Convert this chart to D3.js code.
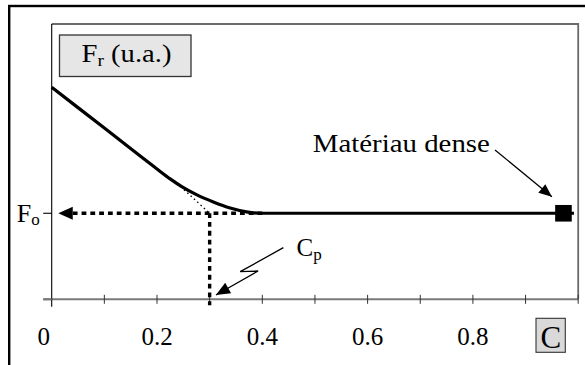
<!DOCTYPE html>
<html><head><meta charset="utf-8">
<script src="https://cdn.jsdelivr.net/npm/d3@7"></script>
<style>
html,body{margin:0;padding:0;background:#fff;}
svg{display:block;}
text{font-family:"Liberation Serif","Times New Roman",serif;fill:#000;}
</style></head>
<body><svg id="c" width="585" height="365"></svg>
<script>
// ---- data ----
const curveC = [0, 0.1, 0.2, 0.225, 0.247, 0.275, 0.307, 0.339, 0.370, 0.40, 0.5, 0.6, 0.7, 0.8, 0.9, 0.992];
const curveF = [2.465, 1.99, 1.515, 1.40, 1.31, 1.216, 1.131, 1.061, 1.016, 1.0, 1.0, 1.0, 1.0, 1.0, 1.0, 1.0];
const tangentC = [0.245, 0.3];
const tangentF = [1.31, 1.0];
const F0 = 1.0;
const Cp = 0.3;
const denseC = [0.972];
const denseF = [1.0];
const xTicks = [0, 0.1, 0.2, 0.3, 0.4, 0.5, 0.6, 0.7, 0.8, 0.9, 1.0];
const xLabels = [0, 0.2, 0.4, 0.6, 0.8];
const yTicks = [0, 1];
const yTickLabels = ["", "F"];

// ---- scales ----
const svg = d3.select("#c");
const x = d3.scaleLinear().domain([0, 1]).range([51.7, 578.2]);
const y = d3.scaleLinear().domain([0, 3.2]).range([299.3, 24]);

// outer frame
svg.append("rect").attr("x", 9.2).attr("y", 6).attr("width", 620).attr("height", 420)
  .attr("fill", "none").attr("stroke", "#000").attr("stroke-width", 2.4);

// plot border top & right
svg.append("path").attr("d", `M${x(0)},${y(3.2)}H${x(1)}V${y(0)}`)
  .attr("fill", "none").attr("stroke", "#6a6a6a").attr("stroke-width", 1.8);

// x axis
const gx = svg.append("g").attr("transform", `translate(0,${y(0)})`);
gx.append("line").attr("x1", x(0) - 8.5).attr("x2", x(1)).attr("stroke", "#7a7a7a").attr("stroke-width", 2);
gx.selectAll("line.t").data(xTicks.slice(1)).join("line").attr("class", "t")
  .attr("x1", d => x(d)).attr("x2", d => x(d)).attr("y1", -4.5).attr("y2", 4.5)
  .attr("stroke", "#333").attr("stroke-width", 1);
gx.selectAll("text").data(xLabels).join("text")
  .attr("x", d => x(d) + (d === 0 ? -8 : 0)).attr("y", 45.8)
  .attr("text-anchor", "middle").attr("font-size", 25)
  .text(d => d === 0 ? "0" : d3.format(".1f")(d));

// y axis
const gy = svg.append("g").attr("transform", `translate(${x(0)},0)`);
gy.append("line").attr("y1", y(3.2)).attr("y2", y(0) + 7.5).attr("stroke", "#000").attr("stroke-width", 1.1);
gy.selectAll("line.t").data(yTicks).join("line").attr("class", "t")
  .attr("x1", -8.5).attr("x2", 0).attr("y1", d => y(d)).attr("y2", d => y(d))
  .attr("stroke", d => d === 0 ? "#7a7a7a" : "#000").attr("stroke-width", d => d === 0 ? 2 : 1.1);
const fo = gy.append("text").attr("x", -12).attr("y", y(F0) + 9).attr("text-anchor", "end").attr("font-size", 26);
fo.append("tspan").text(yTickLabels[1]);
fo.append("tspan").attr("font-size", 17).attr("dy", 3).text("o");

// dashed guides
const dash = svg.append("g").attr("fill", "none").attr("stroke", "#000").attr("stroke-width", 3.4).attr("stroke-dasharray", "4.8,4");
dash.append("line").attr("x1", x(0.04)).attr("x2", x(0.4)).attr("y1", y(F0)).attr("y2", y(F0));
dash.append("line").attr("x1", x(Cp)).attr("x2", x(Cp)).attr("y1", y(F0)).attr("y2", y(0) + 6);
// left arrow head
svg.append("path").attr("d", `M${x(0.0125)},${y(F0)}L${x(0.04)},${y(F0) - 6.5}L${x(0.04)},${y(F0) + 6.5}Z`).attr("fill", "#000");

// tangent dotted
svg.append("path").attr("d", d3.line().x((d, i) => x(tangentC[i])).y((d, i) => y(tangentF[i]))(tangentC))
  .attr("fill", "none").attr("stroke", "#000").attr("stroke-width", 1.3).attr("stroke-dasharray", "1.5,3");

// main curve
svg.append("path").attr("d", d3.line().curve(d3.curveMonotoneX).x((d, i) => x(curveC[i])).y((d, i) => y(curveF[i]))(curveC))
  .attr("fill", "none").attr("stroke", "#000").attr("stroke-width", 3.2);

// dense marker
svg.selectAll("rect.m").data(denseC).join("rect").attr("class", "m")
  .attr("x", (d) => x(d) - 8.3).attr("y", (d, i) => y(denseF[i]) - 8.3).attr("width", 16.6).attr("height", 16.6).attr("fill", "#000");

// arrow helper
function arrow(p0, p1, len, half) {
  const dx = p1[0] - p0[0], dy = p1[1] - p0[1], L = Math.hypot(dx, dy);
  const ux = dx / L, uy = dy / L;
  const bx = p1[0] - ux * len, by = p1[1] - uy * len;
  return `M${p1[0]},${p1[1]}L${bx - uy * half},${by + ux * half}L${bx + uy * half},${by - ux * half}Z`;
}

// Matériau dense arrow
const mA = [x(0.842), y(1.736)], mB = [x(0.95), y(1.193)];
svg.append("line").attr("x1", mA[0]).attr("y1", mA[1]).attr("x2", mB[0]).attr("y2", mB[1]).attr("stroke", "#000").attr("stroke-width", 1.3);
svg.append("path").attr("d", arrow(mA, mB, 13, 5.5)).attr("fill", "#000");
svg.append("text").attr("x", x(0.496)).attr("y", y(1.716)).attr("font-size", 26)
  .attr("textLength", 177).attr("lengthAdjust", "spacingAndGlyphs").text("Matériau dense");

// Cp lightning arrow
const lz = [[x(0.44), y(0.6)], [x(0.358), y(0.321)], [x(0.392), y(0.329)], [x(0.312), y(0.05)]];
svg.append("path").attr("d", d3.line()(lz)).attr("fill", "none").attr("stroke", "#000").attr("stroke-width", 1.3);
svg.append("path").attr("d", arrow(lz[2], lz[3], 14, 6)).attr("fill", "#000");
const cp = svg.append("text").attr("x", x(0.465)).attr("y", y(0.507)).attr("font-size", 25);
cp.append("tspan").text("C");
cp.append("tspan").attr("font-size", 17).attr("dy", 4).text("p");

// title box
svg.append("rect").attr("x", 59.5).attr("y", 35).attr("width", 131.5).attr("height", 41.5)
  .attr("fill", "#e6e6e6").attr("stroke", "#333").attr("stroke-width", 1.3);
const tt = svg.append("text").attr("x", 81.5).attr("y", 62).attr("font-size", 25)
  .attr("textLength", 90).attr("lengthAdjust", "spacingAndGlyphs");
tt.append("tspan").text("F");
tt.append("tspan").attr("font-size", 17).attr("dy", 4).text("r");
tt.append("tspan").attr("dy", -4).text(" (u.a.)");

// C box
svg.append("rect").attr("x", 536).attr("y", 318.3).attr("width", 29.3).attr("height", 34)
  .attr("fill", "#d9d9d9").attr("stroke", "#333").attr("stroke-width", 1.1);
svg.append("text").attr("x", 550.8).attr("y", 347.5).attr("text-anchor", "middle").attr("font-size", 31).text("C");
</script></body></html>
